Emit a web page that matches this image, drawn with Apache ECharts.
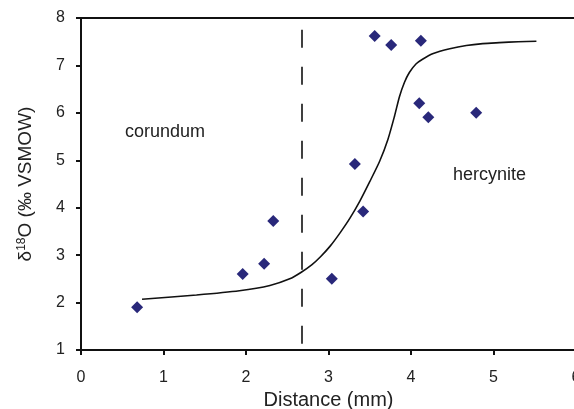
<!DOCTYPE html>
<html>
<head>
<meta charset="utf-8">
<script src="https://cdn.jsdelivr.net/npm/echarts@6/dist/echarts.min.js"></script>
<style>
  html, body { margin: 0; padding: 0; background: #fff; }
  #chart { width: 574px; height: 409px; }
</style>
</head>
<body>
<div id="chart"></div>
<script>
// measured points (distance mm, d18O)
const pointX = [0.68, 1.96, 2.22, 2.33, 3.04, 3.32, 3.42, 3.56, 3.76, 4.10, 4.12, 4.21, 4.79];
const pointY = [1.90, 2.60, 2.82, 3.72, 2.50, 4.92, 3.92, 7.62, 7.43, 6.20, 7.52, 5.91, 6.00];

// model curve
const curveX = [0.74, 1.4, 1.92, 2.29, 2.53, 2.67, 2.80, 2.90, 3.02, 3.14, 3.26, 3.38, 3.50, 3.62, 3.72, 3.80, 3.86, 3.92, 3.98, 4.06, 4.14, 4.27, 4.47, 4.67, 4.87, 5.07, 5.30, 5.52];
const curveY = [2.07, 2.16, 2.25, 2.36, 2.50, 2.64, 2.80, 2.96, 3.19, 3.47, 3.78, 4.14, 4.55, 4.98, 5.44, 5.93, 6.34, 6.64, 6.85, 7.03, 7.13, 7.25, 7.35, 7.42, 7.46, 7.48, 7.50, 7.51];

// boundary
const boundaryX = 2.68;

const xTicks = [0, 1, 2, 3, 4, 5, 6];
const yTicks = [1, 2, 3, 4, 5, 6, 7, 8];

const font = "Liberation Sans, Arial, sans-serif";
const chart = echarts.init(document.getElementById("chart"));

chart.setOption({
  animation: false,
  textStyle: { fontFamily: font },
  grid: {
    left: 81,
    top: 18,
    width: 495,
    height: 332,
    outerBoundsMode: "none",
    show: true,
    borderColor: "#111",
    borderWidth: 2
  },
  xAxis: {
    type: "value",
    min: xTicks[0],
    max: xTicks[xTicks.length - 1],
    interval: 1,
    name: "Distance (mm)",
    nameLocation: "middle",
    nameGap: 40,
    nameTextStyle: { fontSize: 20, color: "#222", fontFamily: font },
    axisLine: { lineStyle: { color: "#111", width: 2 } },
    axisTick: { show: true, length: 5, lineStyle: { color: "#111", width: 2 } },
    axisLabel: { fontSize: 16, color: "#222", margin: 20, fontFamily: font },
    splitLine: { show: false }
  },
  yAxis: {
    type: "value",
    min: yTicks[0],
    max: yTicks[yTicks.length - 1],
    interval: 1,
    name: "δ{sup|18}O (‰ VSMOW)",
    nameLocation: "middle",
    nameGap: 46,
    nameTextStyle: {
      fontSize: 19,
      color: "#222",
      fontFamily: font,
      rich: {
        sup: { fontSize: 12, verticalAlign: "top", lineHeight: 19, color: "#222", fontFamily: font }
      }
    },
    axisLine: { lineStyle: { color: "#111", width: 2 } },
    axisTick: { show: true, length: 5, lineStyle: { color: "#111", width: 2 } },
    axisLabel: { fontSize: 16, color: "#222", margin: 16, fontFamily: font },
    splitLine: { show: false }
  },
  series: [
    {
      type: "line",
      data: curveX.map((x, i) => [x, curveY[i]]),
      smooth: 0.25,
      symbol: "none",
      lineStyle: { color: "#111", width: 1.6 },
      markLine: {
        silent: true,
        symbol: "none",
        label: { show: false },
        lineStyle: { color: "#111", width: 1.6, type: [18, 19] },
        data: [[{ coord: [boundaryX, 7.75] }, { coord: [boundaryX, 1] }]]
      }
    },
    {
      type: "scatter",
      data: pointX.map((x, i) => [x, pointY[i]]),
      symbol: "diamond",
      symbolSize: 12,
      itemStyle: { color: "#29287a", opacity: 1 }
    }
  ],
  graphic: [
    {
      type: "text",
      left: 125,
      top: 123,
      style: { text: "corundum", fontSize: 18, fill: "#222", fontFamily: font }
    },
    {
      type: "text",
      left: 453,
      top: 166,
      style: { text: "hercynite", fontSize: 18, fill: "#222", fontFamily: font }
    }
  ]
});
</script>
</body>
</html>
